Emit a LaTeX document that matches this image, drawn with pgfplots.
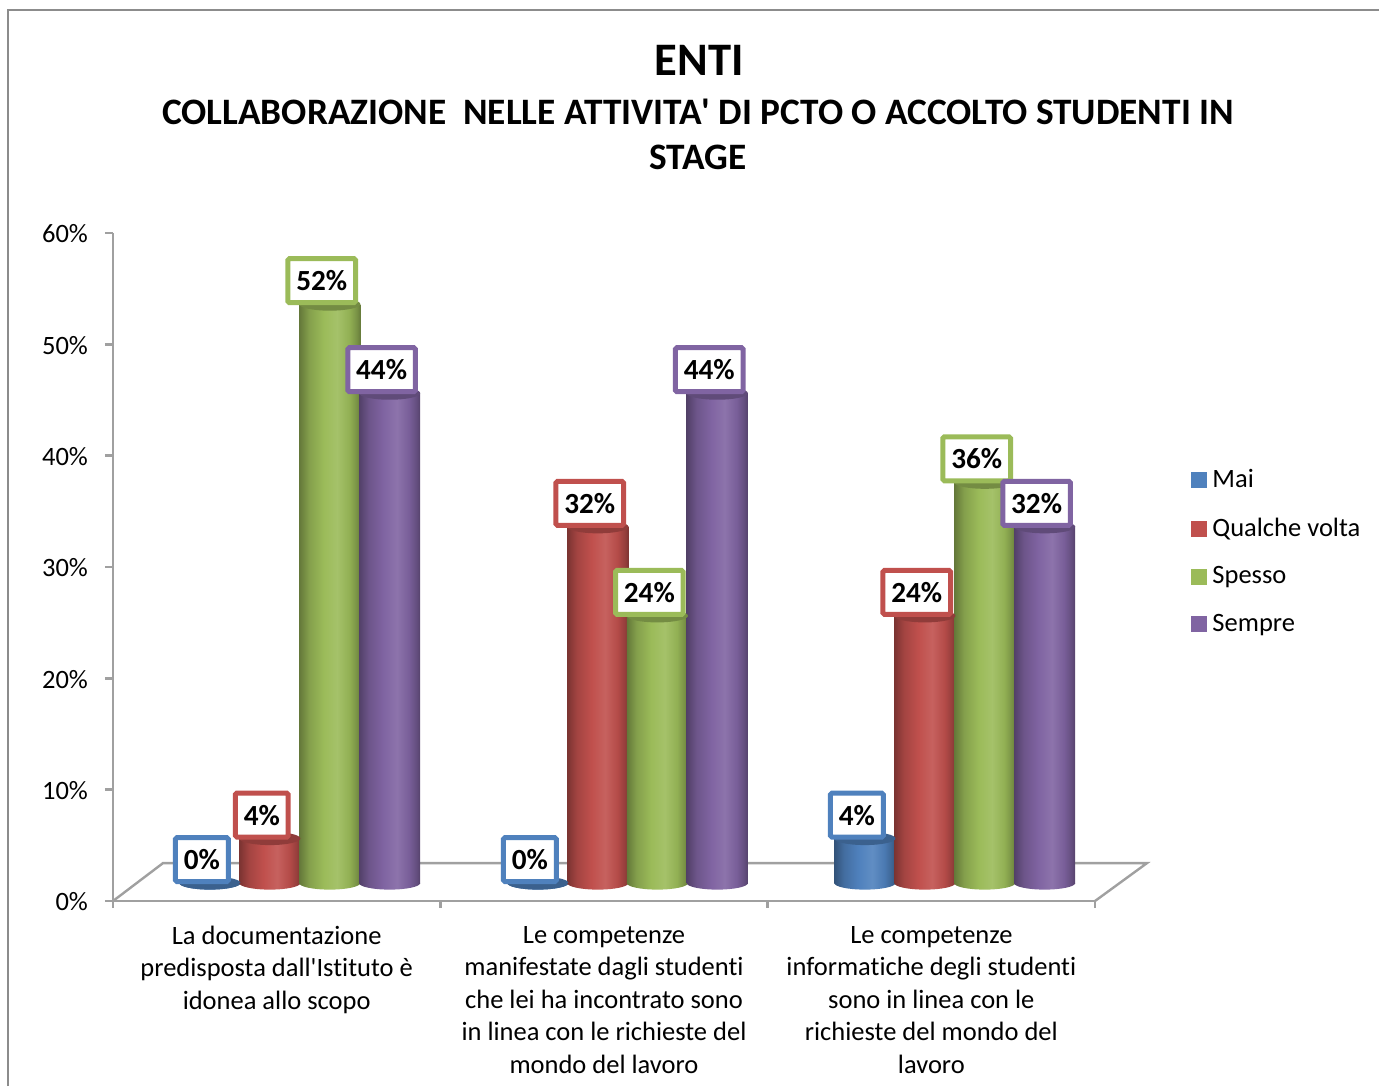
\documentclass[border=0pt]{standalone}
\usepackage{fontspec}
\setmainfont{Carlito}[Ligatures={TeX,NoCommon}]
\usepackage{pgfplots}
\pgfplotsset{compat=1.18}

\definecolor{cblue}{HTML}{4F81BD}
\definecolor{cred}{HTML}{C0504D}
\definecolor{cgreen}{HTML}{9BBB59}
\definecolor{cviolet}{HTML}{8064A2}
\definecolor{axisgrey}{HTML}{A0A0A0}

% cylinder look: one shading and two end caps per colour
\newcommand\mkcyl[1]{%
  \pgfdeclarehorizontalshading{cyl#1}{100bp}{color(0bp)=(c#1!64!black); color(25bp)=(c#1!64!black);
    color(33bp)=(c#1!85!black); color(45bp)=(c#1); color(56bp)=(c#1!90!white);
    color(66bp)=(c#1!94!black); color(72bp)=(c#1!78!black); color(75bp)=(c#1!66!black); color(100bp)=(c#1!66!black)}%
  \pgfdeclareplotmark{base#1}{\path[shading=cyl#1,shading angle=0,rotate=3,draw=none]
    (-15.3pt,0pt) arc[start angle=180,end angle=360,x radius=15.3pt,y radius=3.3pt] -- cycle;}%
  \pgfdeclareplotmark{top#1}{\fill[c#1!75!black,rotate=3,draw=none] (0,0) ellipse (15.3pt and 3.3pt);}%
}
\mkcyl{blue}\mkcyl{red}\mkcyl{green}\mkcyl{violet}

% colour, x, value
\newcommand\cyl[3]{%
  \addplot[only marks,draw=none,mark=base#1] coordinates {(#2,0)};
  \ifdim#3pt>0pt
    \addplot[ybar,bar width=30.6pt,bar shift=0pt,shade,shading=cyl#1,shading angle=0,draw=none] coordinates {(#2,#3)};
  \fi
  \addplot[only marks,draw=none,mark=top#1] coordinates {(#2,#3)};
}
\newcommand\lab[3]{%
  \addplot[draw=none,mark=none,point meta=y,
    nodes near coords={\pgfmathprintnumber[assume math mode=true]{\pgfplotspointmeta}\%},
    every node near coord/.append style={anchor=center,xshift=-4pt,yshift=11.7pt,
      draw=c#1,line width=2.5pt,fill=white,text=black,rounded corners=0.8pt,
      font=\fontsize{14.6}{16}\selectfont\bfseries,
      inner xsep=4.2pt,inner ysep=0pt,minimum height=22pt}]
    coordinates {(#2,#3)};
}

\begin{document}
\begin{tikzpicture}[x=0.5pt,y=-0.5pt]
  \useasboundingbox (0,0) rectangle (1379,1086);
  \draw[color=black!45,line width=0.8pt] (8,1086) -- (8,10) -- (1379,10);

  \node[anchor=base,font=\fontsize{23.3}{26}\selectfont\bfseries] at (699,75.5) {ENTI};
  \node[anchor=base,font=\fontsize{18.66}{22}\selectfont\bfseries] at (698,125) {COLLABORAZIONE\ \ NELLE ATTIVITA\textquotesingle{} DI PCTO O ACCOLTO STUDENTI IN};
  \node[anchor=base,font=\fontsize{18.66}{22}\selectfont\bfseries] at (698,169) {STAGE};

  \begin{axis}[
    at={(56.5pt,-450.5pt)},anchor=origin,
    scale only axis,width=491pt,height=334pt,
    xmin=0,xmax=3,ymin=0,ymax=60,
    clip=false,
    axis x line=bottom,axis y line=left,
    axis line style={-,color=axisgrey,line width=1.2pt},
    tick style={color=axisgrey,line width=1.2pt},
    tick align=outside,
    ytick={0,10,...,60},
    yticklabel={\pgfmathprintnumber{\tick}\%},
    yticklabel style={/pgf/number format/assume math mode=true,font=\fontsize{13.25}{16}\selectfont,xshift=-5pt,yshift=-0.4pt},
    major tick length=4pt,
    xtick={0.5,1.5,2.5},
    xticklabels={
      {La documentazione\\predisposta dall\textquotesingle{}Istituto è\\idonea allo scopo\strut},
      {Le competenze\\manifestate dagli studenti\\che lei ha incontrato sono\\in linea con le richieste del\\mondo del lavoro\strut},
      {Le competenze\\informatiche degli studenti\\sono in linea con le\\richieste del mondo del\\lavoro\strut}},
    major x tick style={draw=none},
    minor xtick={0,1,2,3},
    minor tick length=3.5pt,
    minor tick style={color=axisgrey,line width=1.2pt},
    xticklabel style={anchor=north,align=center,font=\fontsize{13.25}{16.25}\selectfont,yshift=-5pt},
    legend style={at={(axis description cs:1.097,0.647)},anchor=north west,draw=none,fill=none,
      inner sep=0pt,row sep=13.7pt,font=\fontsize{13.25}{16}\selectfont,
      nodes={inner xsep=3pt,inner ysep=0pt}},
    legend cell align=left,
    legend image code/.code={\fill[#1] (0pt,-3.75pt) rectangle (7.5pt,3.75pt);},
  ]
    % floor of the 3D plot area
    \addplot[forget plot,color=axisgrey,line width=1.2pt]
      coordinates {(0,0) (0.153,3.41) (3.159,3.41) (3,0)};
    \addlegendimage{cblue}\addlegendentry{Mai}
    \addlegendimage{cred}\addlegendentry{Qualche volta}
    \addlegendimage{cgreen}\addlegendentry{Spesso}
    \addlegendimage{cviolet}\addlegendentry{Sempre}
  \end{axis}

  % the bars stand in the middle of the floor, 18 px above the front edge
  \begin{axis}[
    at={(56.5pt,-441.5pt)},anchor=origin,
    scale only axis,width=491pt,height=334pt,
    xmin=0,xmax=3,ymin=0,ymax=60,
    clip=false,hide axis,
  ]
    \cyl{blue}{0.296}{0}
    \cyl{red}{0.479}{4}
    \cyl{green}{0.662}{52}
    \cyl{violet}{0.845}{44}
    \cyl{blue}{1.298}{0}
    \cyl{red}{1.481}{32}
    \cyl{green}{1.663}{24}
    \cyl{violet}{1.846}{44}
    \cyl{blue}{2.297}{4}
    \cyl{red}{2.480}{24}
    \cyl{green}{2.663}{36}
    \cyl{violet}{2.846}{32}

    \lab{blue}{0.296}{0}
    \lab{red}{0.479}{4}
    \lab{green}{0.662}{52}
    \lab{violet}{0.845}{44}
    \lab{blue}{1.298}{0}
    \lab{red}{1.481}{32}
    \lab{green}{1.663}{24}
    \lab{violet}{1.846}{44}
    \lab{blue}{2.297}{4}
    \lab{red}{2.480}{24}
    \lab{green}{2.663}{36}
    \lab{violet}{2.846}{32}
  \end{axis}
\end{tikzpicture}
\end{document}
